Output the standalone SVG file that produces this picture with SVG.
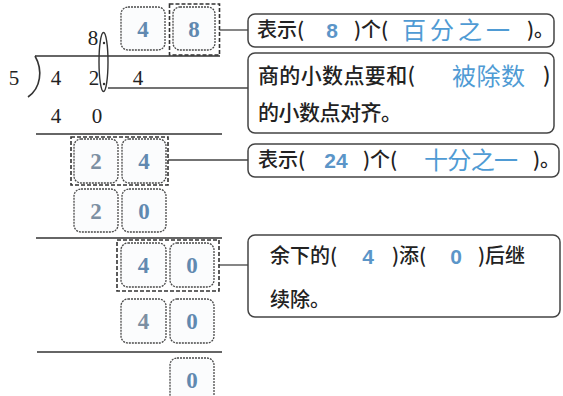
<svg xmlns="http://www.w3.org/2000/svg" width="563" height="396" viewBox="0 0 563 396">
<style>
.bg{fill:#ffffff}
.rule{stroke:#333;stroke-width:1.6;fill:none}
.conn{stroke:#444;stroke-width:1.3;fill:none}
.cell{fill:#fbfcfd;stroke:#4a4a4a;stroke-width:1.3;stroke-dasharray:2 1}
.dash{fill:none;stroke:#333;stroke-width:1.6;stroke-dasharray:4 2}
.call{fill:#fff;stroke:#444;stroke-width:1.5}
.dig{font-family:"Liberation Serif",serif;font-size:21px;fill:#222;text-anchor:middle}
.bd{font-family:"Liberation Serif",serif;font-weight:bold;font-size:23px;fill:#6189b0;text-anchor:middle}
.bd2{fill:#7c8fa2}
.t{font-family:"Noto Sans CJK SC",sans-serif;font-weight:500;font-size:20px;fill:#222}
.b{font-family:"Noto Sans CJK SC",sans-serif;font-size:24px;fill:#4f9bd4}
.bn{font-family:"Liberation Sans",sans-serif;font-weight:bold;font-size:21px;fill:#5b95c8;text-anchor:middle}
</style>
<rect class="bg" width="563" height="396"/>

<g id="division">
  <text class="dig" x="93" y="45">8</text>
  <line class="rule" x1="35" y1="56" x2="220" y2="56"/>
  <path class="rule" d="M35,56 C43,70 41,88 28,97"/>
  <text class="dig" x="14" y="85">5</text>
  <text class="dig" x="56" y="85">4</text>
  <text class="dig" x="94" y="85">2</text>
  <text class="dig" x="138" y="85">4</text>
  <ellipse cx="103.5" cy="62" rx="4.5" ry="29.5" fill="none" stroke="#333" stroke-width="1.4"/>
  <circle cx="104" cy="43" r="1.2" fill="#333"/>
  <circle cx="104" cy="84" r="1.2" fill="#333"/>
  <text class="dig" x="56" y="123">4</text>
  <text class="dig" x="97" y="123">0</text>
  <line class="rule" x1="36" y1="134" x2="222" y2="134"/>
  <line class="rule" x1="36" y1="238" x2="222" y2="238"/>
  <line class="rule" x1="37" y1="352" x2="222" y2="352"/>
</g>

<g id="q-boxes">
  <rect class="cell" x="121" y="7" width="44" height="43" rx="7"/>
  <text class="bd" x="143" y="37">4</text>
  <rect class="cell" x="173" y="7" width="42" height="43" rx="7"/>
  <text class="bd" x="194" y="37">8</text>
  <rect class="dash" x="169.5" y="4" width="50" height="51"/>
</g>

<g id="row24">
  <rect class="cell" x="74" y="139" width="44" height="44" rx="7"/>
  <text class="bd bd2" x="96" y="169">2</text>
  <rect class="cell" x="122" y="139" width="44" height="44" rx="7"/>
  <text class="bd" x="144" y="169">4</text>
  <rect class="dash" x="71" y="137" width="97" height="48"/>
</g>

<g id="row20">
  <rect class="cell" x="74" y="189" width="44" height="43" rx="7"/>
  <text class="bd bd2" x="96" y="219">2</text>
  <rect class="cell" x="122" y="189" width="44" height="43" rx="7"/>
  <text class="bd" x="144" y="219">0</text>
</g>

<g id="row40a">
  <rect class="cell" x="121" y="243" width="45" height="44" rx="7"/>
  <text class="bd" x="143.5" y="273">4</text>
  <rect class="cell" x="170" y="243" width="44" height="44" rx="7"/>
  <text class="bd" x="192" y="273">0</text>
  <rect class="dash" x="117" y="240" width="102" height="51"/>
</g>

<g id="row40b">
  <rect class="cell" x="121" y="299" width="45" height="44" rx="7"/>
  <text class="bd bd2" x="143.5" y="329">4</text>
  <rect class="cell" x="170" y="299" width="44" height="44" rx="7"/>
  <text class="bd" x="192" y="329">0</text>
</g>

<g id="row0">
  <rect class="cell" x="170" y="358" width="44" height="46" rx="7"/>
  <text class="bd" x="192" y="388">0</text>
</g>

<g id="connectors">
  <line class="conn" x1="219.5" y1="30" x2="248" y2="30"/>
  <line class="conn" x1="108" y1="88" x2="248" y2="88"/>
  <line class="conn" x1="168" y1="160" x2="248" y2="160"/>
  <line class="conn" x1="219" y1="265" x2="248" y2="265"/>
</g>

<g id="callout1">
  <rect class="call" x="248" y="14" width="306" height="33" rx="7"/>
  <text class="t" x="257" y="37">表示(</text>
  <text class="bn" x="332" y="38">8</text>
  <text class="t" x="354" y="37">)个(</text>
  <text class="b" x="402" y="39" textLength="108" lengthAdjust="spacing">百分之一</text>
  <text class="t" x="527" y="37">)。</text>
</g>

<g id="callout2">
  <rect class="call" x="248" y="53" width="306" height="80" rx="7"/>
  <text class="t" x="258" y="83" textLength="157" lengthAdjust="spacing" style="font-size:21px">商的小数点要和(</text>
  <text class="b" x="452" y="85" textLength="73" lengthAdjust="spacing">被除数</text>
  <text class="t" x="543" y="83" style="font-size:21px">)</text>
  <text class="t" x="258" y="120" textLength="144" lengthAdjust="spacing" style="font-size:21px">的小数点对齐。</text>
</g>

<g id="callout3">
  <rect class="call" x="248" y="144" width="311" height="33" rx="7"/>
  <text class="t" x="258" y="167">表示(</text>
  <text class="bn" x="336" y="168">24</text>
  <text class="t" x="363" y="167">)个(</text>
  <text class="b" x="424" y="169" textLength="94" lengthAdjust="spacing">十分之一</text>
  <text class="t" x="533" y="167">)。</text>
</g>

<g id="callout4">
  <rect class="call" x="248" y="235" width="312" height="82" rx="7"/>
  <text class="t" x="270" y="263">余下的(</text>
  <text class="bn" x="368" y="264">4</text>
  <text class="t" x="392" y="263">)添(</text>
  <text class="bn" x="456" y="264">0</text>
  <text class="t" x="478" y="263">)后继</text>
  <text class="t" x="270" y="307">续除。</text>
</g>
</svg>
